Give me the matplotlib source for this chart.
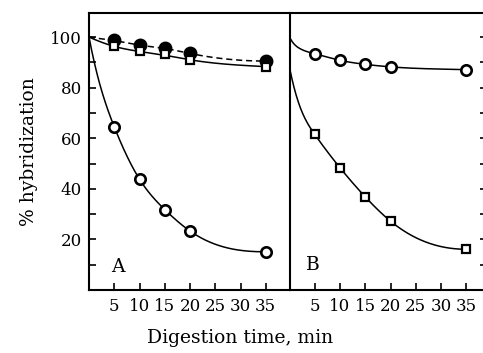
import matplotlib
matplotlib.use("Agg")
import matplotlib.pyplot as plt
import numpy as np

plt.rcParams['font.family'] = ['DejaVu Serif']

# digestion times (min)
t = [5, 10, 15, 20, 35]

# panel A
a_filled = [99, 96.8, 95.5, 93.5, 90.5]     # filled circles, dashed curve
a_square = [96.3, 94.3, 93.2, 91.0, 88.3]   # open squares, solid curve
a_circle = [64.5, 43.8, 31.8, 23.3, 15.1]   # open circles, solid curve

# panel B
b_circle = [93.4, 90.8, 89.2, 88.2, 87.1]
b_square = [61.5, 48.3, 36.8, 27.2, 16.1]

# smooth curves: knots, start slope
a_filled_cx = [0, 5, 10, 15, 20, 35]
a_filled_cy = [100, 98.6, 96.8, 95.5, 93.5, 90.5]
a_square_cx = [0, 5, 10, 15, 20, 35]
a_square_cy = [100, 96.3, 94.3, 92.8, 91.0, 88.3]
a_circle_cx = [0, 5, 10, 15, 20, 35]
a_circle_cy = [100, 64.5, 43.8, 31.8, 23.3, 15.1]
b_circle_cx = [0, 2, 5, 10, 15, 20, 35]
b_circle_cy = [100, 95.5, 93.4, 90.8, 89.2, 88.2, 87.1]
b_square_cx = [0, 5, 10, 15, 20, 35]
b_square_cy = [88, 61.5, 48.3, 36.8, 27.2, 16.1]

xticks = [5, 10, 15, 20, 25, 30, 35]
yticks = [20, 40, 60, 80, 100]


def spline(xk, yk, s0, s1=0.0, n=400):
    # clamped cubic spline through the knots, only used to draw the line
    xk = np.asarray(xk, float)
    yk = np.asarray(yk, float)
    k = len(xk)
    h = np.diff(xk)
    A = np.zeros((k, k))
    r = np.zeros(k)
    A[0, 0], A[0, 1] = 2 * h[0], h[0]
    r[0] = 6 * ((yk[1] - yk[0]) / h[0] - s0)
    A[-1, -2], A[-1, -1] = h[-1], 2 * h[-1]
    r[-1] = 6 * (s1 - (yk[-1] - yk[-2]) / h[-1])
    for i in range(1, k - 1):
        A[i, i - 1], A[i, i], A[i, i + 1] = h[i - 1], 2 * (h[i - 1] + h[i]), h[i]
        r[i] = 6 * ((yk[i + 1] - yk[i]) / h[i] - (yk[i] - yk[i - 1]) / h[i - 1])
    M = np.linalg.solve(A, r)
    xs = np.linspace(xk[0], xk[-1], n)
    j = np.clip(np.searchsorted(xk, xs) - 1, 0, k - 2)
    a = xk[j + 1] - xs
    b = xs - xk[j]
    ys = (M[j] * a**3 + M[j + 1] * b**3) / (6 * h[j]) \
        + (yk[j] / h[j] - M[j] * h[j] / 6) * a + (yk[j + 1] / h[j] - M[j + 1] * h[j] / 6) * b
    return xs, ys


fig = plt.figure(figsize=(4.83, 3.53), dpi=100)
W, H = 483, 353
axA = fig.add_axes([89 / W, 1 - 290 / H, 200 / W, 277 / H])
axB = fig.add_axes([289.5 / W, 1 - 290 / H, 193 / W, 277 / H])

lw = 1.1
ck = dict(color='black', lw=lw)
oc = dict(marker='o', ms=7.5, mfc='white', mec='black', mew=1.9, ls='none')
sq = dict(marker='s', ms=5.5, mfc='white', mec='black', mew=1.6, ls='none')
fc = dict(marker='o', ms=9, mfc='black', mec='black', ls='none')

# panel A
axA.plot(*spline(a_filled_cx, a_filled_cy, -0.35), color='black', lw=lw, ls=(0, (4, 2.5)))
axA.plot(*spline(a_square_cx, a_square_cy, -0.9, -0.1), **ck)
axA.plot(*spline(a_circle_cx, a_circle_cy, -10.5), **ck)
axA.plot(t, a_filled, **fc)
axA.plot(t, a_square, **sq)
axA.plot(t, a_circle, **oc)

# panel B
axB.plot(*spline(b_circle_cx, b_circle_cy, -4.0, -0.05), **ck)
axB.plot(*spline(b_square_cx, b_square_cy, -10.0), **ck)
axB.plot(t, b_circle, **oc)
axB.plot(t, b_square, **sq)

for ax, xmax in ((axA, 39.6), (axB, 38.2)):
    ax.set_xlim(0, xmax)
    ax.set_ylim(0, 109.5)
    ax.set_xticks(xticks)
    ax.set_xticklabels([str(v) for v in xticks], fontsize=12)
    ax.tick_params(axis='x', direction='in', length=5, width=1.2, pad=6)
    for s in ax.spines.values():
        s.set_linewidth(1.5)

axA.set_yticks(yticks)
axA.set_yticks([10, 30, 50, 70, 90], minor=True)
axA.set_yticklabels([str(v) for v in yticks], fontsize=12)
axA.tick_params(axis='y', which='both', direction='in', length=5, width=1.2, pad=5)
axA.spines['right'].set_visible(False)

axB.set_yticks(list(range(10, 101, 10)))
axB.yaxis.tick_right()
axB.tick_params(axis='y', direction='in', length=2.5, width=1.2, labelright=False)
axB.spines['right'].set_visible(False)

axA.text(5.7, 9, 'A', fontsize=13.5, ha='center', va='center')
axB.text(4.6, 9.8, 'B', fontsize=13.5, ha='center', va='center')

axA.set_ylabel('% hybridization', fontsize=13.5, labelpad=9)
fig.text(240 / W, 1 - 338 / H, 'Digestion time, min', fontsize=13.5, ha='center', va='center')

fig.savefig('out.png', dpi=100)
